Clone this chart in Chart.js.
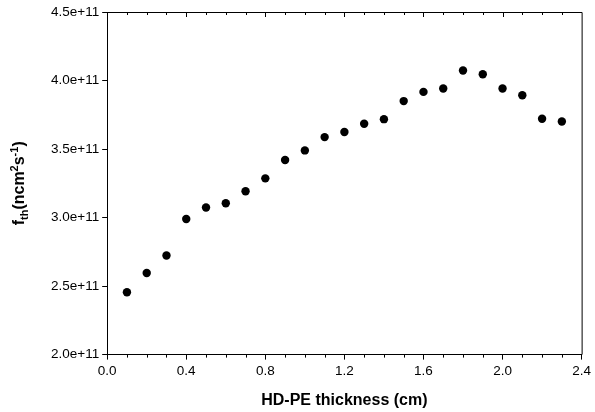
<!DOCTYPE html>
<html>
<head>
<meta charset="utf-8">
<script src="https://cdn.jsdelivr.net/npm/chart.js@4"></script>
<style>
  html, body { margin: 0; padding: 0; background: #fff; }
  #wrap { width: 595px; height: 412px; }
</style>
</head>
<body>
<div id="wrap"><canvas id="fluxChart"></canvas></div>
<script>
// HD-PE thickness (cm) and thermal neutron flux
const thickness = [0.1, 0.2, 0.3, 0.4, 0.5, 0.6, 0.7, 0.8, 0.9, 1.0, 1.1, 1.2,
                   1.3, 1.4, 1.5, 1.6, 1.7, 1.8, 1.9, 2.0, 2.1, 2.2, 2.3];
const flux = [2.455e11, 2.595e11, 2.723e11, 2.990e11, 3.073e11, 3.104e11, 3.192e11,
              3.286e11, 3.420e11, 3.490e11, 3.587e11, 3.624e11, 3.684e11, 3.718e11,
              3.850e11, 3.917e11, 3.942e11, 4.073e11, 4.046e11, 3.942e11, 3.893e11,
              3.721e11, 3.701e11];

// axis ranges and ticks
const xRange = [0, 2.4];
const xMajorStep = 0.4;
const xMinorStep = 0.1;
const yRange = [2.0e11, 4.5e11];
const yMajorStep = 0.5e11;

const FONT = '"Liberation Sans", Arial, Helvetica, sans-serif';

// Frame (top/right sides), minor ticks and the y title with sub/superscripts
const framePlugin = {
  id: 'frame',
  afterDraw(chart) {
    const ctx = chart.ctx;
    const xs = chart.scales.x;
    const a = chart.chartArea;
    ctx.save();
    ctx.strokeStyle = '#000';
    ctx.lineWidth = 1;
    ctx.beginPath();
    ctx.moveTo(a.left, a.top + 0.5);
    ctx.lineTo(a.right + 0.5, a.top + 0.5);
    ctx.lineTo(a.right + 0.5, a.bottom);
    ctx.stroke();

    // ticks every 0.1 on bottom (outward) and top (inward)
    const n = Math.round((xRange[1] - xRange[0]) / xMinorStep);
    ctx.beginPath();
    for (let i = 1; i < n; i++) {
      const v = xRange[0] + i * xMinorStep;
      const px = Math.round(xs.getPixelForValue(v)) + 0.5;
      const major = (i % Math.round(xMajorStep / xMinorStep)) === 0;
      if (!major) {
        ctx.moveTo(px, a.bottom);
        ctx.lineTo(px, a.bottom + 3);
      }
      ctx.moveTo(px, a.top);
      ctx.lineTo(px, a.top + (major ? 5 : 3));
    }
    ctx.stroke();

    // y axis title: f_th(ncm^2 s^-1)
    const parts = [
      { t: 'f', size: 16, dy: 0 },
      { t: 'th', size: 11, dy: 5 },
      { t: '(ncm', size: 16, dy: 0 },
      { t: '2', size: 11, dy: -5 },
      { t: 's', size: 16, dy: 0 },
      { t: '-1', size: 11, dy: -5 },
      { t: ')', size: 16, dy: 0 }
    ];
    let total = 0;
    parts.forEach(p => {
      ctx.font = 'bold ' + p.size + 'px ' + FONT;
      p.w = ctx.measureText(p.t).width;
      total += p.w;
    });
    ctx.translate(20, (a.top + a.bottom) / 2);
    ctx.rotate(-Math.PI / 2);
    ctx.fillStyle = '#000';
    ctx.textBaseline = 'middle';
    ctx.textAlign = 'left';
    let x = -total / 2;
    parts.forEach(p => {
      ctx.font = 'bold ' + p.size + 'px ' + FONT;
      ctx.fillText(p.t, x, p.dy);
      x += p.w;
    });
    ctx.restore();
  }
};

new Chart(document.getElementById('fluxChart'), {
  type: 'scatter',
  data: {
    datasets: [{
      label: 'flux',
      data: thickness.map((t, i) => ({ x: t, y: flux[i] })),
      backgroundColor: '#000',
      borderWidth: 0,
      pointRadius: 4.2,
      pointHoverRadius: 4.2
    }]
  },
  options: {
    responsive: true,
    maintainAspectRatio: false,
    animation: false,
    layout: { padding: { left: 48, right: 9, top: 12, bottom: 2 } },
    plugins: {
      legend: { display: false },
      tooltip: { enabled: false }
    },
    scales: {
      x: {
        type: 'linear',
        min: xRange[0],
        max: xRange[1],
        grid: { drawOnChartArea: false, drawTicks: true, tickLength: 5, color: '#000' },
        border: { display: true, color: '#000', width: 1 },
        ticks: {
          stepSize: xMajorStep,
          color: '#000',
          padding: 4,
          maxRotation: 0,
          font: { family: FONT, size: 13.5 },
          callback: v => Number(v).toFixed(1)
        },
        title: {
          display: true,
          text: 'HD-PE thickness (cm)',
          color: '#000',
          font: { family: FONT, size: 16, weight: 'bold' },
          padding: { top: 7, bottom: 0 }
        }
      },
      y: {
        type: 'linear',
        min: yRange[0],
        max: yRange[1],
        grid: { drawOnChartArea: false, drawTicks: true, tickLength: 5, color: '#000' },
        border: { display: true, color: '#000', width: 1 },
        ticks: {
          stepSize: yMajorStep,
          color: '#000',
          padding: 3,
          font: { family: FONT, size: 13.5 },
          callback: v => Number(v).toExponential(1)
        }
      }
    }
  },
  plugins: [framePlugin]
});
</script>
</body>
</html>
